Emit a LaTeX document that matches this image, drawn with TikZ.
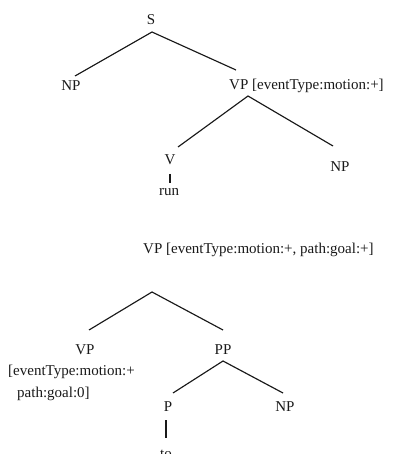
\documentclass[tikz,border=0pt]{standalone}
\usepackage{fontspec}
\setmainfont{Liberation Serif}
\begin{document}
\begin{tikzpicture}[x=1pt,y=-1pt,
  lbl/.style={inner sep=0pt, font=\fontsize{15}{17}\selectfont, text=black!90},
  edge/.style={line width=1.15pt, black!90}]
\useasboundingbox (0,0) rectangle (396,454);
% tree 1
\node[lbl] (S) at (151,20) {S};
\node[lbl] (NP1) at (71,86) {NP};
\node[lbl, anchor=west] (VP1) at (229,86) {VP [eventType:motion:+]};
\node[lbl] (V1) at (170,160) {V};
\node[lbl] (run) at (169,192) {run};
\node[lbl] (NP2) at (340,167) {NP};
\coordinate (s0) at (152,32);
\coordinate (s1) at (75,76);
\coordinate (s2) at (236,70);
\coordinate (v0) at (248,96);
\coordinate (v1) at (178,147);
\coordinate (v2) at (333,146);
\coordinate (r0) at (170,174);
\coordinate (r1) at (170,183);
\draw[edge] (s1) -- (s0) -- (s2);
\draw[edge] (v1) -- (v0) -- (v2);
\draw[edge] (r0) -- (r1);
% tree 2
\node[lbl, anchor=west] (VP2) at (143,250) {VP [eventType:motion:+, path:goal:+]};
\node[lbl] (VP3) at (85,350) {VP};
\node[lbl, anchor=west] (f1) at (8,372) {[eventType:motion:+};
\node[lbl, anchor=west] (f2) at (17,394) {path:goal:0]};
\node[lbl] (PP) at (223,350) {PP};
\node[lbl] (P) at (168,407) {P};
\node[lbl] (NP3) at (285,407) {NP};
\node[lbl] (to) at (166,454) {to};
\coordinate (t0) at (152,292);
\coordinate (t1) at (89,330);
\coordinate (t2) at (223,330);
\coordinate (p0) at (223,361);
\coordinate (p1) at (173,393);
\coordinate (p2) at (283,393);
\coordinate (q0) at (166,420);
\coordinate (q1) at (166,438);
\draw[edge] (t1) -- (t0) -- (t2);
\draw[edge] (p1) -- (p0) -- (p2);
\draw[edge] (q0) -- (q1);
\end{tikzpicture}
\end{document}
